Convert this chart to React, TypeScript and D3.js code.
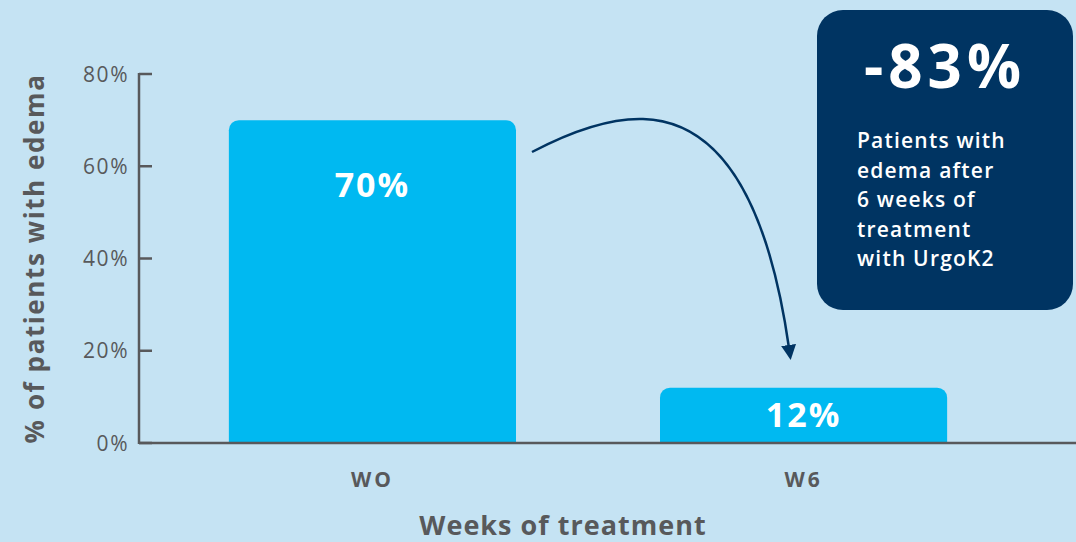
import * as d3 from "d3";

const weeks = ["WO", "W6"];
const edemaPct = [70, 12];
const yTicks = [0, 20, 40, 60, 80];
const calloutValue = "-83%";
const calloutLines = ["Patients with", "edema after", "6 weeks of", "treatment", "with UrgoK2"];

const width = 1076;
const height = 542;
const font = "'Open Sans', 'DejaVu Sans', sans-serif";
const grey = "#58595b";
const barColor = "#00b9f1";
const navy = "#003462";

// bar with rounded top corners only
function topRoundedBar(x: number, y: number, w: number, h: number, r: number) {
  const p = d3.path();
  p.moveTo(x, y + h);
  p.lineTo(x, y + r);
  p.arcTo(x, y, x + r, y, r);
  p.lineTo(x + w - r, y);
  p.arcTo(x + w, y, x + w, y + r, r);
  p.lineTo(x + w, y + h);
  p.closePath();
  return p.toString();
}

export default function App() {
  const x = d3.scaleBand().domain(weeks).range([156, 1020]).paddingInner(0.334).paddingOuter(0.169);
  const y = d3.scaleLinear().domain([0, 80]).range([443, 74]);
  const axisX = 139;

  const arrow = "M532,152 C570,132 610,118 643,119 C710,121 765,180 789,348";

  return (
    <svg
      width={width}
      height={height}
      style={{ position: "absolute", left: 0, top: 0, display: "block" }}
      fontFamily={font}
    >
      <defs>
        <marker id="head" viewBox="0 0 10 10" refX="2" refY="5" markerWidth="6" markerHeight="6" orient="auto" markerUnits="strokeWidth">
          <path d="M0,0 L10,5 L0,10 Z" fill={navy} />
        </marker>
      </defs>
      <rect width={width} height={height} fill="#c5e3f3" />

      {weeks.map((w, i) => {
        const bx = x(w)!;
        const top = y(edemaPct[i]);
        const cx = bx + x.bandwidth() / 2;
        return (
          <g key={w}>
            <path d={topRoundedBar(bx, top, x.bandwidth(), y(0) - top, 10)} fill={barColor} />
            <text
              x={cx}
              y={i === 0 ? 197 : 427}
              textAnchor="middle"
              fill="#fff"
              fontWeight={700}
              fontSize={34}
              letterSpacing={2}
            >
              {edemaPct[i]}%
            </text>
            <text x={cx} y={487} textAnchor="middle" fill={grey} fontWeight={700} fontSize={21} letterSpacing={3}>
              {w}
            </text>
          </g>
        );
      })}

      {/* axes */}
      <line x1={axisX} x2={axisX} y1={y(80) - 1} y2={y(0) + 1} stroke={grey} strokeWidth={2.5} />
      <line x1={axisX} x2={width} y1={y(0)} y2={y(0)} stroke={grey} strokeWidth={2.5} />
      {yTicks.map((t) => (
        <g key={t}>
          <line x1={axisX} x2={axisX + 13} y1={y(t)} y2={y(t)} stroke={grey} strokeWidth={2.5} />
          <text x={129} y={y(t)} dy="0.36em" textAnchor="end" fill={grey} fontSize={21} letterSpacing={1.5}>
            {t}%
          </text>
        </g>
      ))}

      <text
        transform={`translate(44,${y(40)}) rotate(-90)`}
        textAnchor="middle"
        fill={grey}
        fontWeight={700}
        fontSize={26}
        letterSpacing={1.6}
      >
        % of patients with edema
      </text>
      <text x={563} y={535} textAnchor="middle" fill={grey} fontWeight={700} fontSize={27} letterSpacing={1}>
        Weeks of treatment
      </text>

      <path d={arrow} fill="none" stroke={navy} strokeWidth={2.5} markerEnd="url(#head)" />

      {/* callout */}
      <rect x={817} y={10} width={256} height={300} rx={26} fill={navy} />
      <text x={945} y={88} textAnchor="middle" fill="#fff" fontWeight={700} fontSize={60} letterSpacing={5}>
        {calloutValue}
      </text>
      {calloutLines.map((l, i) => (
        <text key={l} x={857} y={148 + i * 29.5} fill="#fff" fontWeight={600} fontSize={21} letterSpacing={1.2}>
          {l}
        </text>
      ))}
    </svg>
  );
}
